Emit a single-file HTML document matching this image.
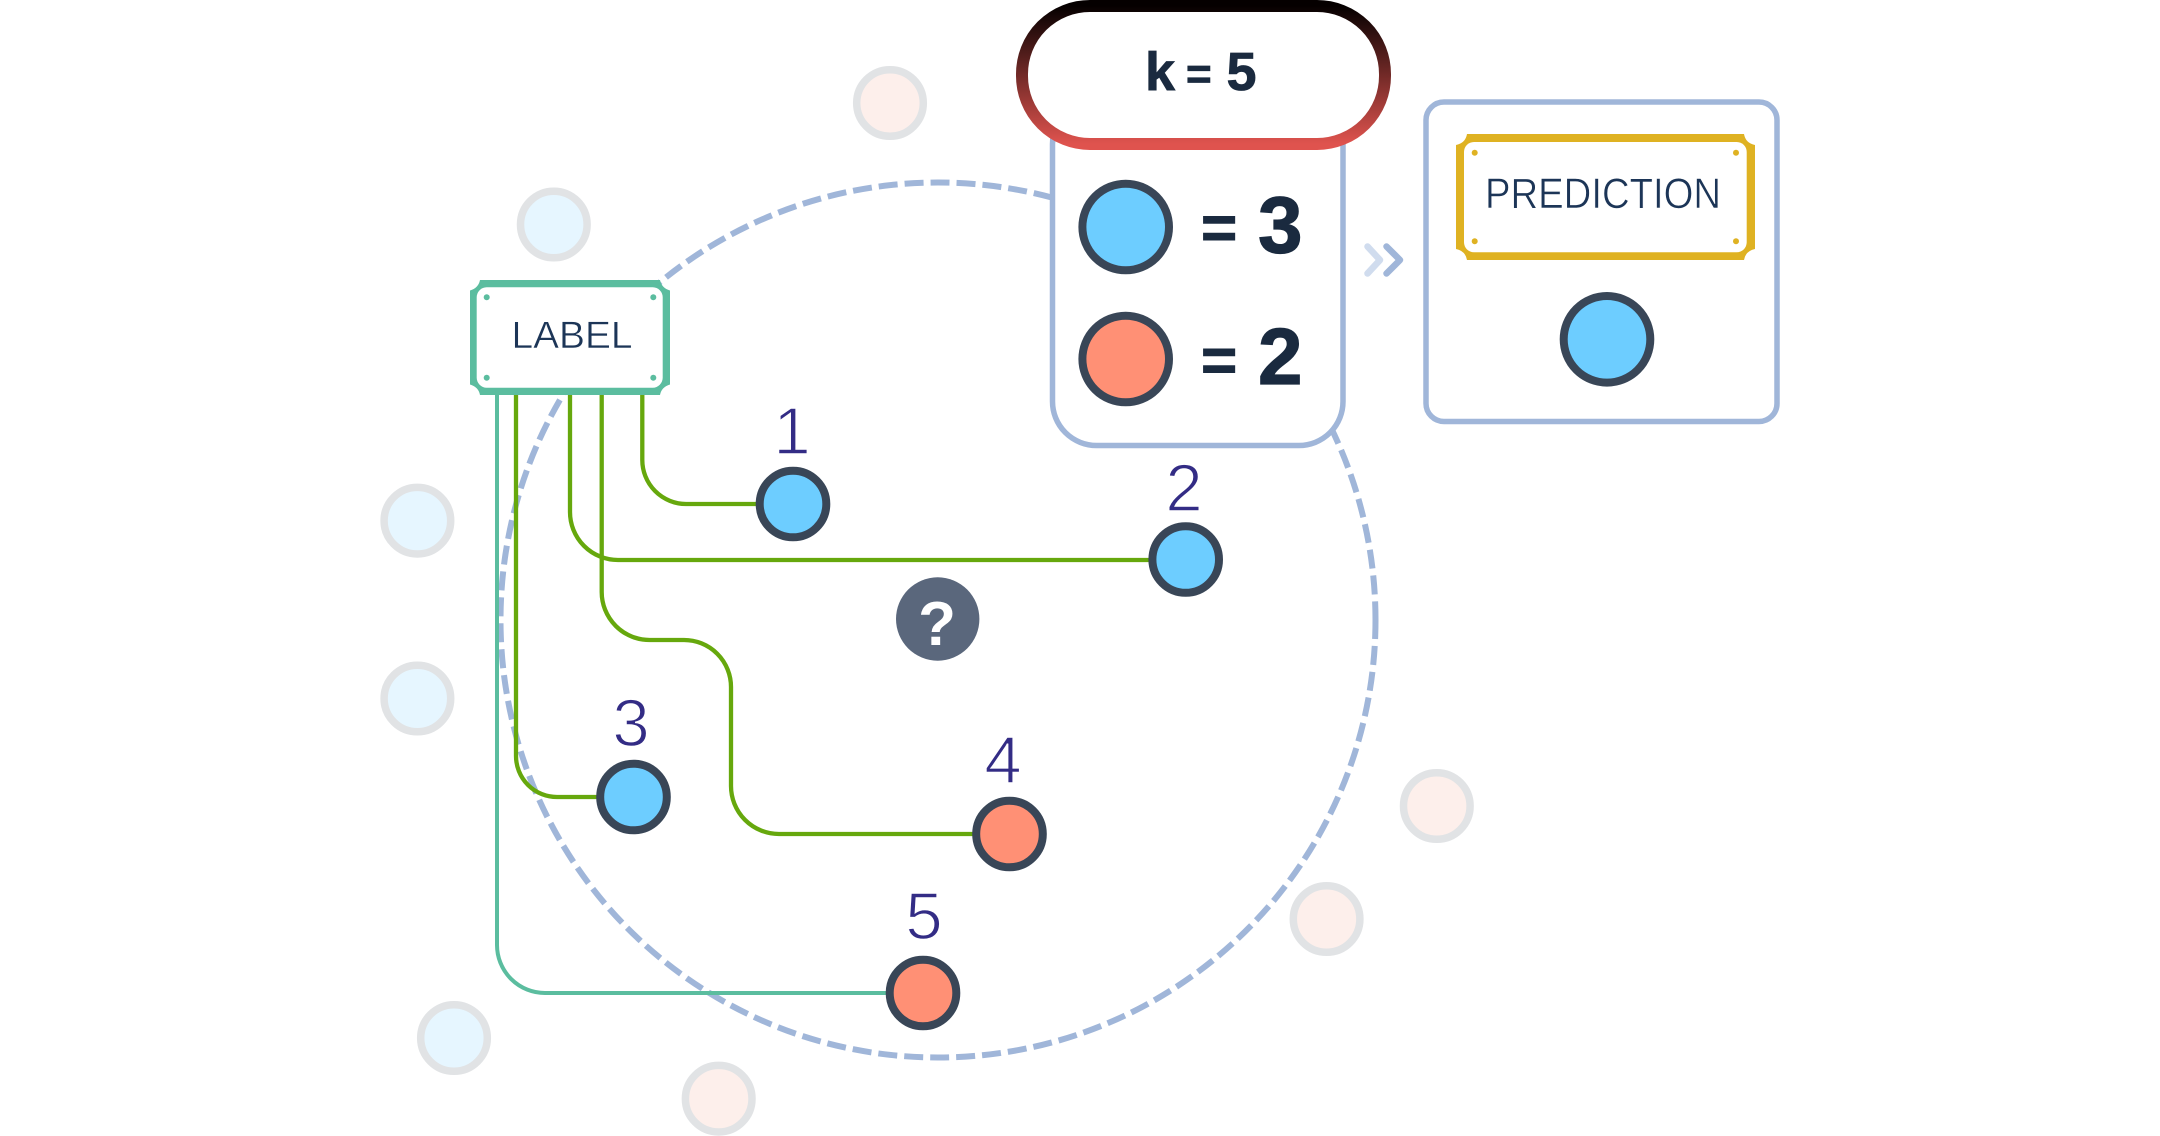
<!DOCTYPE html>
<html>
<head>
<meta charset="utf-8">
<title>k-NN diagram</title>
<style>
html,body{margin:0;padding:0;background:#fff;width:2160px;height:1136px;overflow:hidden}
svg{display:block}
text{font-family:"Liberation Sans",sans-serif}
.num{font-size:67px;fill:#332c85;text-anchor:middle;stroke:#fff;stroke-width:1.5px;paint-order:fill stroke}
.big{font-size:80px;font-weight:bold;fill:#1a2a3f;stroke:#1a2a3f;stroke-width:1.2px}
.eq{font-size:62px;font-weight:bold;fill:#1a2a3f;stroke:#1a2a3f;stroke-width:1px}
.g{fill:none;stroke:#66a80d;stroke-width:4.3}
.t{fill:none;stroke:#5bbd9f;stroke-width:4}
.fb{fill:#e6f6ff;stroke:#e1e3e5;stroke-width:7.5}
.fp{fill:#fdefeb;stroke:#e1e3e5;stroke-width:7.5}
.b{fill:#6dcdff;stroke:#394657;stroke-width:8}
.o{fill:#ff9075;stroke:#394657;stroke-width:8}
</style>
</head>
<body>
<svg width="2160" height="1136" viewBox="0 0 2160 1136" xmlns="http://www.w3.org/2000/svg">
<defs>
<linearGradient id="kg" x1="0" y1="0" x2="0" y2="1">
<stop offset="0" stop-color="#050000"/>
<stop offset="1" stop-color="#df534e"/>
</linearGradient>
</defs>
<rect width="2160" height="1136" fill="#fff"/>

<!-- faded points -->
<circle class="fp" cx="890" cy="103" r="33.3"/>
<circle class="fb" cx="553.8" cy="224.5" r="33.3"/>
<circle class="fb" cx="417.4" cy="520.7" r="33.3"/>
<circle class="fb" cx="417.4" cy="698.5" r="33.3"/>
<circle class="fp" cx="1436.8" cy="806" r="33.3"/>
<circle class="fp" cx="1326.6" cy="919" r="33.3"/>
<circle class="fb" cx="454" cy="1038" r="33.3"/>
<circle class="fp" cx="718.7" cy="1098.7" r="33.3"/>

<!-- dashed neighbourhood -->
<circle cx="938" cy="620" r="437.5" fill="none" stroke="#a0b6d9" stroke-width="6" stroke-dasharray="19 7"/>

<!-- connectors -->
<path class="t" d="M497 395V945A48 48 0 0 0 545 993H923"/>
<path class="g" d="M516 395V756A41 41 0 0 0 557 797H633"/>
<path class="g" d="M570 395V512A48 48 0 0 0 618 560H1185"/>
<path class="g" d="M601.7 395V592A48 48 0 0 0 650 640H684A47 47 0 0 1 731 687V786A48 48 0 0 0 779 834H1009"/>
<path class="g" d="M642.3 395V460A44 44 0 0 0 686 504H793"/>

<!-- label box -->
<path fill="#5bbd9f" d="M480 280H660Q661.500 288 670 290.500V384.500Q661.500 387 660 395H480Q478.500 387 470 384.500V290.500Q478.500 288 480 280Z"/>
<rect x="476.7" y="287.3" width="186" height="100.4" rx="10" fill="#fff"/>
<g fill="#5bbd9f">
<circle cx="486.7" cy="297.3" r="3"/><circle cx="653.3" cy="297.3" r="3"/>
<circle cx="486.7" cy="377.7" r="3"/><circle cx="653.3" cy="377.7" r="3"/>
</g>
<text x="511.5" y="348" font-size="38" fill="#1c3557" textLength="121" lengthAdjust="spacingAndGlyphs" stroke="#fff" stroke-width=".5" paint-order="fill stroke">LABEL</text>

<!-- points -->
<circle class="b" cx="793" cy="504" r="33.3"/>
<circle class="b" cx="1185.7" cy="559.5" r="33.3"/>
<circle class="b" cx="633.5" cy="797" r="33.3"/>
<circle class="o" cx="1009.5" cy="834" r="33.3"/>
<circle class="o" cx="923" cy="993" r="33.3"/>

<text class="num" x="792" y="454">1</text>
<text class="num" x="1184" y="511">2</text>
<text class="num" x="631" y="746">3</text>
<text class="num" x="1003" y="783">4</text>
<text class="num" x="924" y="939">5</text>

<!-- question -->
<circle cx="937.7" cy="619" r="41.7" fill="#5a677c"/>
<text x="937" y="645" font-size="62" font-weight="bold" fill="#fff" text-anchor="middle">?</text>

<!-- count box -->
<rect x="1052.5" y="100" width="290.5" height="345.5" rx="44" fill="#fff" stroke="#a0b6d9" stroke-width="5.5"/>
<rect x="1022" y="6" width="363" height="138" rx="68" fill="#fff" stroke="url(#kg)" stroke-width="12"/>
<text font-size="54" font-weight="bold" fill="#1a2a3f" stroke="#1a2a3f" stroke-width=".8"><tspan x="1145" y="90">k</tspan> <tspan x="1186" y="88.500" font-size="44">=</tspan> <tspan x="1226.500" y="90">5</tspan></text>

<circle class="b" cx="1125.7" cy="227" r="43.3"/>
<circle class="o" cx="1125.7" cy="359" r="43.3"/>
<text class="eq" x="1201" y="249">=</text>
<text class="big" x="1258" y="252.500">3</text>
<text class="eq" x="1201" y="381.500">=</text>
<text class="big" x="1258" y="384">2</text>

<!-- chevrons -->
<path d="M1367.500 246.500L1380 260L1367.500 273.500" fill="none" stroke="#d0dcee" stroke-width="6.500" stroke-linecap="round" stroke-linejoin="round"/>
<path d="M1386.500 246.500L1400 260L1386.500 273.500" fill="none" stroke="#a0b6d9" stroke-width="6.500" stroke-linecap="round" stroke-linejoin="round"/>

<!-- prediction box -->
<rect x="1426" y="102" width="351" height="319.500" rx="18" fill="#fff" stroke="#a0b6d9" stroke-width="5.500"/>
<path fill="#dfb222" d="M1467 134H1744Q1745.500 143 1755 145V249Q1745.500 251 1744 260H1467Q1465.500 251 1456 249V145Q1465.500 143 1467 134Z"/>
<rect x="1464" y="142" width="282.700" height="110.300" rx="10" fill="#fff"/>
<g fill="#dfb222">
<circle cx="1474.700" cy="152.700" r="3"/><circle cx="1736" cy="152.700" r="3"/>
<circle cx="1474.700" cy="241.300" r="3"/><circle cx="1736" cy="241.300" r="3"/>
</g>
<text x="1485" y="208" font-size="43" fill="#1c3557" textLength="236" lengthAdjust="spacingAndGlyphs" stroke="#fff" stroke-width=".6" paint-order="fill stroke">PREDICTION</text>
<circle class="b" cx="1607" cy="339.300" r="43.300"/>
</svg>
</body>
</html>
